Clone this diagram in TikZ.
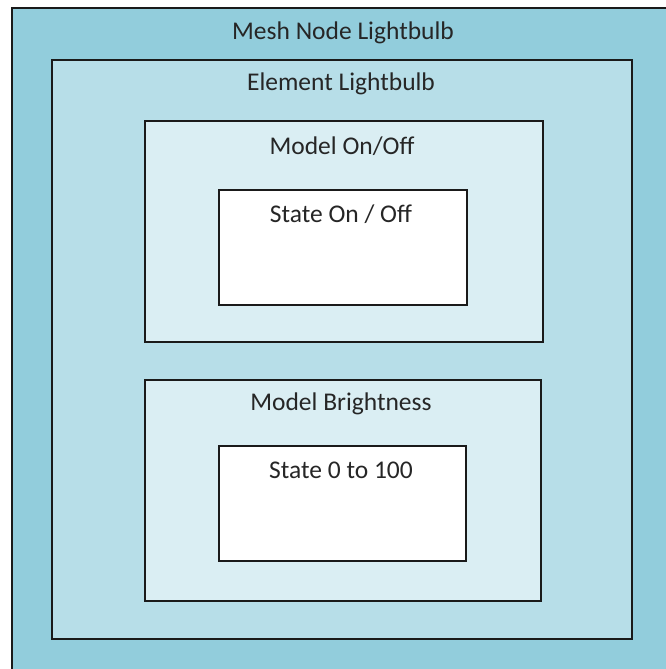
\documentclass[tikz,border=0pt]{standalone}
\usepackage{fontspec}
\setmainfont{Carlito}
\usetikzlibrary{positioning}
\definecolor{meshblue}{HTML}{92CDDC}
\definecolor{elemblue}{HTML}{B7DEE8}
\definecolor{modelblue}{HTML}{DAEEF3}
\definecolor{edge}{HTML}{1A1A1A}
\tikzset{
	box/.style={draw=edge, line width=2pt, rectangle, anchor=north west, inner sep=0pt},
	title/.style={font=\fontsize{25.5}{30}\selectfont, text=black!85, anchor=center}
}
\begin{document}
\begin{tikzpicture}[x=1pt,y=-1pt]
	\useasboundingbox (0,0) rectangle (665,669);
	% nested boxes
	\node[box, fill=meshblue, minimum width=670pt, minimum height=680pt] (mesh) at (11,7) {};
	\node[box, fill=elemblue, minimum width=580pt, minimum height=579pt] (element) at (51,59) {};
	\node[box, fill=modelblue, minimum width=398pt, minimum height=221pt] (onoff) at (144,120) {};
	\node[box, fill=white, minimum width=248pt, minimum height=115pt] (stateonoff) at (218,189) {};
	\node[box, fill=modelblue, minimum width=396pt, minimum height=221pt] (bright) at (144,379) {};
	\node[box, fill=white, minimum width=247pt, minimum height=115pt] (statebright) at (218,445) {};
	% titles
	\node[title] (meshlabel) at (343,33) {Mesh Node Lightbulb};
	\node[title] (elemlabel) at (341,84) {Element Lightbulb};
	\node[title] (onofflabel) at (342,146) {Model On/Off};
	\node[title] (stateonofflabel) at (341,214) {State On / Off};
	\node[title] (brightlabel) at (341,404) {Model Brightness};
	\node[title] (statebrightlabel) at (341,470) {State 0 to 100};
\end{tikzpicture}
\end{document}
